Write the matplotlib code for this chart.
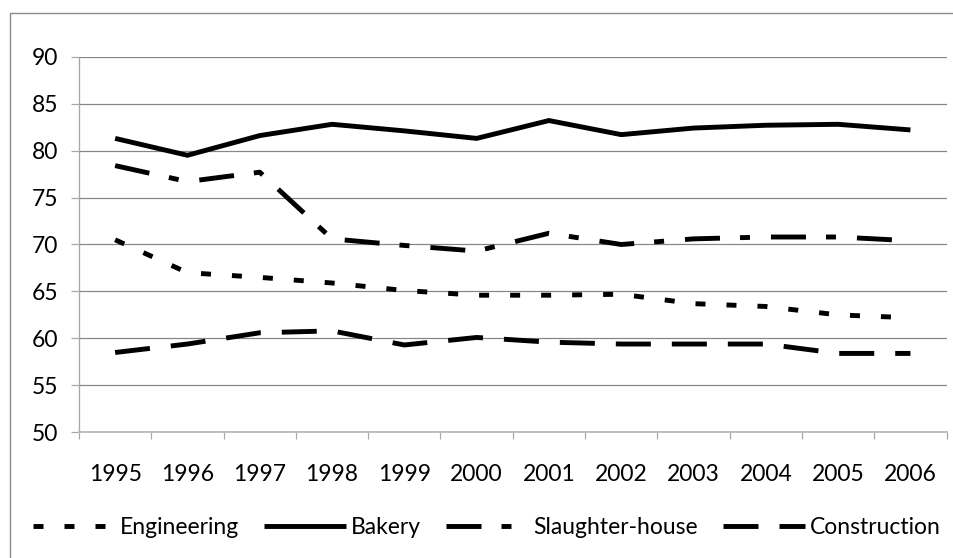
import matplotlib
matplotlib.use("Agg")
import matplotlib.pyplot as plt
from matplotlib.patches import Rectangle
from matplotlib.lines import Line2D

years = ["1995", "1996", "1997", "1998", "1999", "2000",
         "2001", "2002", "2003", "2004", "2005", "2006"]
engineering = [70.5, 67.0, 66.5, 65.9, 65.1, 64.6, 64.6, 64.7, 63.7, 63.4, 62.5, 62.2]
bakery = [81.3, 79.5, 81.6, 82.8, 82.1, 81.3, 83.2, 81.7, 82.4, 82.7, 82.8, 82.2]
slaughter = [78.4, 76.7, 77.7, 70.6, 69.9, 69.3, 71.2, 70.0, 70.6, 70.8, 70.8, 70.4]
construction = [58.5, 59.4, 60.6, 60.8, 59.3, 60.1, 59.6, 59.4, 59.4, 59.4, 58.4, 58.4]
yticks = [50, 55, 60, 65, 70, 75, 80, 85, 90]

plt.rcParams['font.family'] = ['Lato', 'DejaVu Sans']
plt.rcParams['lines.scale_dashes'] = False

W, H = 954, 558
DPI = 100
fig = plt.figure(figsize=(W / DPI, H / DPI), dpi=DPI)
fig.patch.set_facecolor('white')

px = 72.0 / DPI  # points per pixel

# chart area border (extends past right/bottom edge)
fig.add_artist(Rectangle((10 / W, -0.1), 1.2, (H - 13) / H + 0.1,
                         transform=fig.transFigure, fill=False,
                         edgecolor='#8c8c8c', linewidth=1.4 * px, clip_on=False))

left, right = 79 / W, 946.6 / W
top, bottom = 1 - 56.7 / H, 1 - 432.3 / H
ax = fig.add_axes([left, bottom, right - left, top - bottom])

x = list(range(len(years)))
lw = 4.9 * px
styles = {
    'Engineering': dict(dashes=(10 * px, 21 * px)),
    'Bakery': dict(linestyle='-'),
    'Slaughter-house': dict(dashes=(35 * px, 20 * px, 10 * px, 21 * px)),
    'Construction': dict(dashes=(35 * px, 21 * px)),
}
series = [('Engineering', engineering), ('Bakery', bakery),
          ('Slaughter-house', slaughter), ('Construction', construction)]
for name, vals in series:
    ax.plot(x, vals, color='black', linewidth=lw, solid_capstyle='butt',
            dash_capstyle='butt', solid_joinstyle='miter', label=name, **styles[name])

ax.set_ylim(50, 90)
ax.set_yticks(yticks)
ax.set_yticklabels([str(v) for v in yticks])
ax.set_xlim(-0.5, len(years) - 0.5)
ax.set_xticks([i - 0.5 for i in range(len(years) + 1)])
ax.set_xticklabels([])
ax.set_xticks(x, minor=True)
ax.set_xticklabels(years, minor=True)

ax.yaxis.grid(True, color='#868686', linewidth=1.2 * px)
ax.set_axisbelow(True)
for s in ['top', 'right']:
    ax.spines[s].set_visible(False)
ax.spines['left'].set_color('#a6a6a6')
ax.spines['left'].set_linewidth(1.3 * px)
ax.spines['bottom'].set_color('#bfbfbf')
ax.spines['bottom'].set_linewidth(2 * px)

fs = 16.5
ax.tick_params(axis='y', which='major', length=8 * px, width=1.2 * px, color='#a6a6a6',
               pad=13 * px, labelsize=fs, labelcolor='black')
ax.tick_params(axis='x', which='major', length=7 * px, width=1.2 * px, color='#a6a6a6')
ax.tick_params(axis='x', which='minor', length=0, pad=32 * px, labelsize=fs,
               labelcolor='black')

handles = [Line2D([], [], color='black', linewidth=lw, solid_capstyle='butt',
                  dash_capstyle='butt', **styles[n]) for n, _ in series]
fpx = fs / px
leg = fig.legend(handles, [n for n, _ in series], ncol=4, loc='center',
                 bbox_to_anchor=(487 / W, 1 - 528 / H), frameon=False,
                 fontsize=fs, handlelength=82 / fpx, handletextpad=5 / fpx,
                 columnspacing=25 / fpx, borderaxespad=0, borderpad=0)

fig.savefig('out.png', dpi=DPI, facecolor='white')
